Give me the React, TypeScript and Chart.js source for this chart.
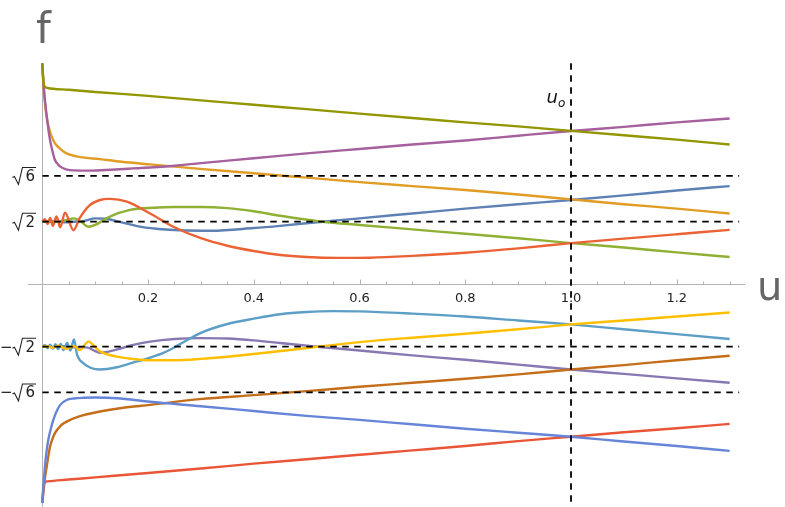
import React, { useEffect, useRef } from 'react';
import { Chart, registerables } from 'chart.js';

Chart.register(...registerables);

const S2 = Math.SQRT2;
const S6 = Math.sqrt(6);

// ---- axis ranges / ticks ----
const X_MIN = 0;
const X_MAX = 1.33;
const X_AXIS_START = -0.027;
const Y_MIN = -5;
const Y_MAX = 5;
const U0 = 1.0;
const DASH_END = 1.318;

const xMajor = [0.2, 0.4, 0.6, 0.8, 1.0, 1.2];
const xMajorLabels = ['0.2', '0.4', '0.6', '0.8', '1.0', '1.2'];
const xMinor = [0.05, 0.1, 0.15, 0.25, 0.3, 0.35, 0.45, 0.5, 0.55, 0.65, 0.7, 0.75, 0.85, 0.9, 0.95, 1.05, 1.1, 1.15, 1.25, 1.3];
const yTickValues = [S6, S2, -S2, -S6];
const yTickRadicands = ['6', '2', '2', '6'];
const yTickSigns = ['', '', '−', '−'];
const dashLevels = [S6, S2, -S2, -S6];

// ---- series (u, f) ----
const blueU = [0, 0.02, 0.04, 0.06, 0.08, 0.1, 0.12, 0.15, 0.19, 0.22, 0.26, 0.32, 0.4, 0.45, 0.53, 0.6, 0.7, 0.8, 0.9, 1.0, 1.1, 1.2, 1.3];
const blueF = [1.414, 1.43, 1.40, 1.414, 1.43, 1.49, 1.48, 1.40, 1.29, 1.25, 1.22, 1.21, 1.27, 1.32, 1.414, 1.49, 1.6, 1.71, 1.81, 1.905, 2.01, 2.12, 2.22];

const orangeU = [0, 0.002, 0.004, 0.0083, 0.0147, 0.02, 0.024, 0.035, 0.046, 0.07, 0.109, 0.15, 0.204, 0.298, 0.4, 0.5, 0.6, 0.7, 0.8, 0.9, 1.0, 1.1, 1.2, 1.3];
const orangeF = [5.0, 4.6, 4.25, 3.79, 3.45, 3.28, 3.19, 3.05, 2.96, 2.88, 2.83, 2.77, 2.71, 2.61, 2.51, 2.41, 2.31, 2.22, 2.13, 2.03, 1.92, 1.81, 1.71, 1.6];

const greenU = [0, 0.015, 0.03, 0.045, 0.06, 0.075, 0.087, 0.1, 0.128, 0.166, 0.21, 0.25, 0.3, 0.35, 0.4, 0.45, 0.53, 0.6, 0.7, 0.8, 0.9, 1.0, 1.1, 1.2, 1.3];
const greenF = [1.414, 1.41, 1.42, 1.45, 1.49, 1.40, 1.30, 1.34, 1.53, 1.68, 1.73, 1.745, 1.745, 1.72, 1.65, 1.55, 1.414, 1.34, 1.24, 1.14, 1.04, 0.93, 0.83, 0.72, 0.615];

const redU = [0, 0.005, 0.01, 0.015, 0.02, 0.027, 0.034, 0.043, 0.059, 0.071, 0.09, 0.109, 0.128, 0.16, 0.204, 0.248, 0.3, 0.35, 0.4, 0.45, 0.5, 0.56, 0.62, 0.7, 0.8, 0.9, 1.0, 1.1, 1.2, 1.3];
const redF = [1.414, 1.47, 1.36, 1.50, 1.32, 1.53, 1.29, 1.62, 1.22, 1.50, 1.79, 1.905, 1.93, 1.87, 1.60, 1.30, 1.04, 0.87, 0.75, 0.66, 0.615, 0.595, 0.60, 0.64, 0.71, 0.81, 0.93, 1.03, 1.13, 1.23];

const purpleU = [0, 0.02, 0.04, 0.06, 0.083, 0.109, 0.14, 0.17, 0.204, 0.25, 0.3, 0.35, 0.4, 0.45, 0.52, 0.6, 0.7, 0.8, 0.9, 1.0, 1.1, 1.2, 1.3];
const purpleF = [-1.414, -1.42, -1.40, -1.43, -1.43, -1.55, -1.48, -1.38, -1.30, -1.24, -1.22, -1.23, -1.27, -1.33, -1.414, -1.50, -1.61, -1.71, -1.82, -1.93, -2.03, -2.13, -2.23];

const brownU = [0, 0.002, 0.005, 0.0084, 0.0147, 0.02, 0.024, 0.035, 0.046, 0.07, 0.109, 0.15, 0.204, 0.298, 0.4, 0.5, 0.6, 0.7, 0.8, 0.9, 1.0, 1.1, 1.2, 1.3];
const brownF = [-4.95, -4.73, -4.4, -4.13, -3.68, -3.48, -3.37, -3.2, -3.11, -2.99, -2.88, -2.80, -2.73, -2.60, -2.51, -2.42, -2.32, -2.23, -2.14, -2.04, -1.93, -1.83, -1.72, -1.62];

const lightBlueU = [0, 0.005, 0.01, 0.015, 0.02, 0.025, 0.03, 0.035, 0.04, 0.047, 0.053, 0.06, 0.066, 0.078, 0.109, 0.141, 0.17, 0.204, 0.23, 0.26, 0.3, 0.35, 0.4, 0.45, 0.5, 0.55, 0.6, 0.7, 0.8, 0.9, 1.0, 1.1, 1.2, 1.3];
const lightBlueF = [-1.414, -1.38, -1.45, -1.37, -1.46, -1.36, -1.47, -1.35, -1.49, -1.33, -1.50, -1.25, -1.60, -1.79, -1.93, -1.88, -1.78, -1.66, -1.55, -1.36, -1.10, -0.90, -0.78, -0.68, -0.63, -0.61, -0.615, -0.665, -0.73, -0.82, -0.91, -1.02, -1.13, -1.24];

const yellowU = [0, 0.01, 0.02, 0.03, 0.045, 0.06, 0.071, 0.087, 0.109, 0.141, 0.17, 0.204, 0.25, 0.3, 0.35, 0.4, 0.46, 0.52, 0.6, 0.7, 0.8, 0.9, 1.0, 1.1, 1.2, 1.3];
const yellowF = [-1.414, -1.40, -1.44, -1.39, -1.46, -1.40, -1.49, -1.30, -1.52, -1.64, -1.69, -1.72, -1.72, -1.69, -1.64, -1.58, -1.50, -1.414, -1.31, -1.21, -1.12, -1.02, -0.91, -0.82, -0.73, -0.64];

const magentaU = [0, 0.002, 0.005, 0.01, 0.0147, 0.02, 0.024, 0.03, 0.034, 0.045, 0.06, 0.09, 0.13, 0.172, 0.25, 0.3, 0.4, 0.5, 0.6, 0.7, 0.8, 0.9, 1.0, 1.1, 1.2, 1.3];
const magentaF = [5.0, 4.6, 4.17, 3.65, 3.26, 2.98, 2.81, 2.71, 2.66, 2.60, 2.575, 2.57, 2.59, 2.62, 2.68, 2.74, 2.85, 2.96, 3.06, 3.16, 3.25, 3.36, 3.466, 3.56, 3.66, 3.75];

const oliveU = [0, 0.002, 0.005, 0.01, 0.05, 0.1, 0.2, 0.3, 0.4, 0.5, 0.6, 0.7, 0.8, 0.9, 1.0, 1.1, 1.2, 1.3];
const oliveF = [5.0, 4.6, 4.47, 4.44, 4.40, 4.35, 4.26, 4.16, 4.06, 3.96, 3.86, 3.76, 3.66, 3.57, 3.47, 3.37, 3.27, 3.16];

const red2U = [0, 0.002, 0.005, 0.01, 0.05, 0.1, 0.2, 0.3, 0.4, 0.5, 0.6, 0.7, 0.8, 0.9, 1.0, 1.1, 1.2, 1.3];
const red2F = [-4.95, -4.6, -4.48, -4.46, -4.42, -4.37, -4.27, -4.17, -4.06, -3.96, -3.86, -3.76, -3.66, -3.55, -3.45, -3.35, -3.26, -3.16];

const blue2U = [0, 0.001, 0.003, 0.005, 0.008, 0.0115, 0.016, 0.021, 0.027, 0.034, 0.046, 0.06, 0.078, 0.1, 0.141, 0.204, 0.3, 0.4, 0.5, 0.6, 0.7, 0.8, 0.9, 1.0, 1.1, 1.2, 1.3];
const blue2F = [-4.95, -4.8, -4.45, -4.13, -3.8, -3.52, -3.28, -3.07, -2.88, -2.73, -2.62, -2.585, -2.57, -2.565, -2.58, -2.66, -2.76, -2.87, -2.98, -3.07, -3.17, -3.27, -3.36, -3.45, -3.56, -3.66, -3.77];

const seriesList = [
  { u: blueU, f: blueF, color: '#5E81B5' },
  { u: orangeU, f: orangeF, color: '#E19C24' },
  { u: greenU, f: greenF, color: '#8FB032' },
  { u: redU, f: redF, color: '#EB6235' },
  { u: purpleU, f: purpleF, color: '#8778B3' },
  { u: brownU, f: brownF, color: '#C56E1A' },
  { u: lightBlueU, f: lightBlueF, color: '#5D9EC7' },
  { u: yellowU, f: yellowF, color: '#FFBF00' },
  { u: magentaU, f: magentaF, color: '#A5609D' },
  { u: oliveU, f: oliveF, color: '#929600' },
  { u: red2U, f: red2F, color: '#E95536' },
  { u: blue2U, f: blue2F, color: '#6685D9' },
];

const FONT = '"DejaVu Sans", sans-serif';

const axesPlugin = {
  id: 'mmaAxes',
  beforeDatasetsDraw(chart: any) {
    const { ctx } = chart;
    const x = chart.scales.x;
    const y = chart.scales.y;
    const px0 = Math.round(x.getPixelForValue(0)) + 0.5;
    const py0 = Math.round(y.getPixelForValue(0)) + 0.5;
    ctx.save();
    ctx.strokeStyle = '#b3b3b3';
    ctx.lineWidth = 1;
    ctx.beginPath();
    ctx.moveTo(px0, y.getPixelForValue(Y_MAX));
    ctx.lineTo(px0, y.getPixelForValue(Y_MIN) + 2);
    ctx.stroke();
    ctx.beginPath();
    ctx.moveTo(x.getPixelForValue(X_AXIS_START), py0);
    ctx.lineTo(x.getPixelForValue(X_MAX), py0);
    ctx.stroke();
    // ticks
    ctx.beginPath();
    xMajor.forEach((v) => {
      const p = Math.round(x.getPixelForValue(v)) + 0.5;
      ctx.moveTo(p, py0);
      ctx.lineTo(p, py0 - 5);
    });
    xMinor.forEach((v) => {
      const p = Math.round(x.getPixelForValue(v)) + 0.5;
      ctx.moveTo(p, py0);
      ctx.lineTo(p, py0 - 3);
    });
    ctx.stroke();
    // x labels
    ctx.fillStyle = '#222';
    ctx.font = `13px ${FONT}`;
    ctx.textAlign = 'center';
    ctx.textBaseline = 'middle';
    xMajor.forEach((v, i) => {
      ctx.fillText(xMajorLabels[i], x.getPixelForValue(v), py0 + 14);
    });
    // y labels: radicals
    ctx.font = `15px ${FONT}`;
    ctx.strokeStyle = '#222';
    ctx.lineWidth = 1.1;
    yTickValues.forEach((v, i) => {
      const yc = y.getPixelForValue(v);
      const xr = 35;
      const d = yTickRadicands[i];
      const wd = ctx.measureText(d).width;
      ctx.textAlign = 'right';
      ctx.fillText(d, xr, yc + 1);
      const xd = xr - wd - 1;
      ctx.beginPath();
      ctx.moveTo(xd - 12, yc + 1.5);
      ctx.lineTo(xd - 10, yc + 0.5);
      ctx.lineTo(xd - 6, yc + 8.5);
      ctx.lineTo(xd - 2, yc - 8.5);
      ctx.lineTo(xr + 1, yc - 8.5);
      ctx.stroke();
      if (yTickSigns[i]) {
        ctx.textAlign = 'left';
        ctx.fillText(yTickSigns[i], 0, yc + 1);
      }
    });
    ctx.restore();
  },
  afterDraw(chart: any) {
    const { ctx } = chart;
    const x = chart.scales.x;
    ctx.save();
    ctx.fillStyle = '#666';
    ctx.textBaseline = 'alphabetic';
    ctx.textAlign = 'left';
    ctx.font = `42px ${FONT}`;
    ctx.fillText('f', 36, 43);
    ctx.font = `40px ${FONT}`;
    ctx.fillText('u', 757, 300);
    // u_o label
    ctx.fillStyle = '#111';
    ctx.font = `italic 18px ${FONT}`;
    const xu = x.getPixelForValue(U0);
    ctx.textAlign = 'right';
    ctx.fillText('u', xu - 13, 103);
    ctx.font = `italic 12px ${FONT}`;
    ctx.textAlign = 'left';
    ctx.fillText('o', xu - 13, 107);
    ctx.restore();
  },
};

export default function App() {
  const ref = useRef<HTMLCanvasElement | null>(null);
  useEffect(() => {
    if (!ref.current) return;
    const dashed: any[] = dashLevels.map((lv) => ({
      data: [{ x: 0, y: lv }, { x: DASH_END, y: lv }],
      borderColor: '#000',
      borderWidth: 1.8,
      borderDash: [6.5, 5.5],
      pointRadius: 0,
      tension: 0,
      order: 0,
    }));
    dashed.push({
      data: [{ x: U0, y: Y_MAX }, { x: U0, y: Y_MIN }],
      borderColor: '#000',
      borderWidth: 1.8,
      borderDash: [6.5, 5.5],
      pointRadius: 0,
      tension: 0,
      order: 0,
      clip: false,
    });
    const curves = seriesList.map((s, i) => ({
      data: s.u.map((u, k) => ({ x: u, y: s.f[k] })),
      borderColor: s.color,
      borderWidth: 2.4,
      pointRadius: 0,
      cubicInterpolationMode: 'monotone',
      order: 20 - i,
      clip: 4,
    }));
    const chart = new Chart(ref.current, {
      type: 'line',
      data: { datasets: [...dashed, ...curves] as any },
      options: {
        animation: false,
        responsive: false,
        devicePixelRatio: 1,
        parsing: false,
        layout: { padding: { left: 42.25, right: 39.5, top: 63.2, bottom: 1.8 } },
        scales: {
          x: { type: 'linear', min: X_MIN, max: X_MAX, display: false },
          y: { type: 'linear', min: Y_MIN, max: Y_MAX, display: false },
        },
        plugins: { legend: { display: false }, tooltip: { enabled: false } },
        elements: { point: { radius: 0 } },
      } as any,
      plugins: [axesPlugin],
    });
    return () => chart.destroy();
  }, []);
  return (
    <div style={{ position: 'fixed', left: 0, top: 0, width: 785, height: 507, background: '#fff' }}>
      <canvas ref={ref} width={785} height={507} style={{ width: 785, height: 507, display: 'block' }} />
    </div>
  );
}
